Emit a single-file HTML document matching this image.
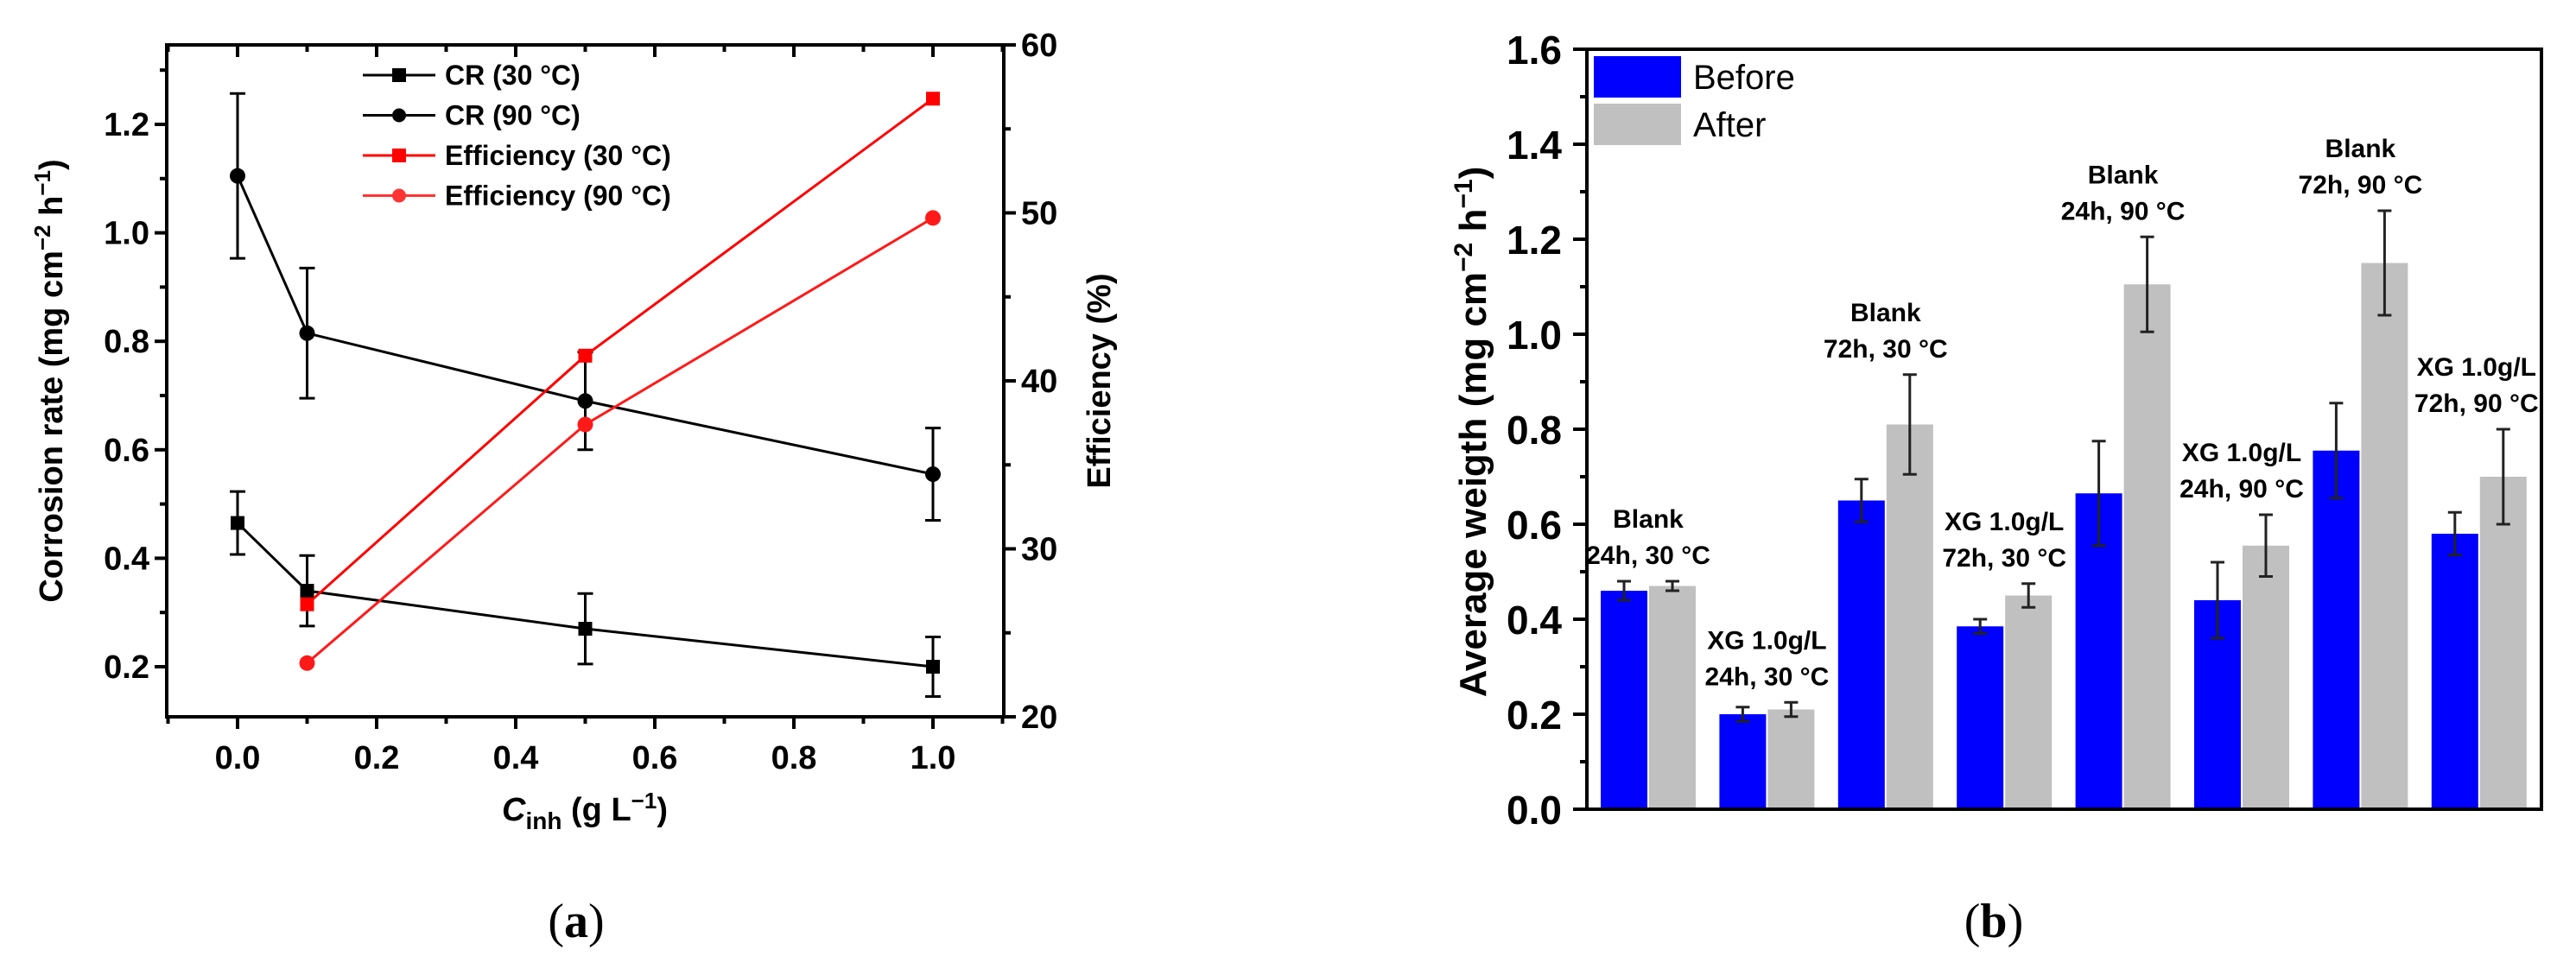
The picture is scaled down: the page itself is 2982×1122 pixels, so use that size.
<!DOCTYPE html>
<html><head><meta charset="utf-8"><style>
html,body{margin:0;padding:0;background:#fff;}
svg{display:block;font-family:"Liberation Sans",Arial,sans-serif;}
</style></head><body>
<svg id="svg" width="2982" height="1122" viewBox="0 0 2982 1122" xmlns="http://www.w3.org/2000/svg">
<g id="ga"></g>
<g id="gb"></g>
<text x="667" y="1085" font-family="Liberation Serif,serif" font-size="56" text-anchor="middle">(<tspan font-weight="bold">a</tspan>)</text>
<text x="2308" y="1085" font-family="Liberation Serif,serif" font-size="56" text-anchor="middle">(<tspan font-weight="bold">b</tspan>)</text>
</svg>
<script>
// ---- Chart A data ----
const xConc = [0, 0.1, 0.5, 1.0];
const cr30 = [0.465, 0.34, 0.27, 0.20];
const cr30Err = [0.058, 0.065, 0.065, 0.055];
const cr90 = [1.105, 0.815, 0.69, 0.555];
const cr90Err = [0.152, 0.12, 0.09, 0.085];
const effX = [0.1, 0.5, 1.0];
const eff30 = [26.7, 41.5, 56.8];
const eff90 = [23.2, 37.4, 49.7];
const xTicksA = [0, 0.2, 0.4, 0.6, 0.8, 1.0];
const yTicksA = [0.2, 0.4, 0.6, 0.8, 1.0, 1.2];
const yTicksRA = [20, 30, 40, 50, 60];
// ---- Chart B data ----
const groups = ["Blank 24h 30", "XG 24h 30", "Blank 72h 30", "XG 72h 30", "Blank 24h 90", "XG 24h 90", "Blank 72h 90", "XG 72h 90"];
const before = [0.46, 0.20, 0.65, 0.385, 0.665, 0.44, 0.755, 0.58];
const beforeErr = [0.02, 0.015, 0.045, 0.015, 0.11, 0.08, 0.1, 0.045];
const after = [0.47, 0.21, 0.81, 0.45, 1.105, 0.555, 1.15, 0.70];
const afterErr = [0.01, 0.015, 0.105, 0.025, 0.1, 0.065, 0.11, 0.1];
const labelL1 = ["Blank", "XG 1.0g/L", "Blank", "XG 1.0g/L", "Blank", "XG 1.0g/L", "Blank", "XG 1.0g/L"];
const labelL2 = ["24h, 30 °C", "24h, 30 °C", "72h, 30 °C", "72h, 30 °C", "24h, 90 °C", "24h, 90 °C", "72h, 90 °C", "72h, 90 °C"];
const yTicksB = [0, 0.2, 0.4, 0.6, 0.8, 1.0, 1.2, 1.4, 1.6];

const NS = "http://www.w3.org/2000/svg";
function mk(parent, tag, attrs, text){
  const e = document.createElementNS(NS, tag);
  for (const k in attrs) e.setAttribute(k, attrs[k]);
  if (text !== undefined) e.textContent = text;
  parent.appendChild(e); return e;
}
// ===== Chart A =====
const ga = document.getElementById('ga');
const AL=193, AR=1162, AT=52, AB=830;
const xA = v => 275 + v*805;
const yA = v => 772 - (v-0.2)*628;
const yRA = v => 830 - (v-20)*(778/40);
let e = mk(ga,'rect',{x:AL,y:AT,width:AR-AL,height:AB-AT,fill:'none',stroke:'#000','stroke-width':4});
 
for (let v=-0.1; v<=1.101; v+=0.1){
  const major = Math.abs(Math.round(v*10)%2)===0;
  const x=xA(v), len = major?14:8;
  mk(ga,'line',{x1:x,y1:AB,x2:x,y2:AB+len,stroke:'#000','stroke-width':4});
  mk(ga,'line',{x1:x,y1:AT,x2:x,y2:AT+len,stroke:'#000','stroke-width':4});
}
xTicksA.forEach(v=>{
  e = mk(ga,'text',{x:xA(v),y:890,'font-size':38,'font-weight':'bold','text-anchor':'middle'},v.toFixed(1));
   
});
for (let v=0.1; v<=1.35; v+=0.1){
  const y=yA(v); if (y<AT||y>AB) continue;
  const major = Math.round(v*10)%2===0;
  mk(ga,'line',{x1:AL,y1:y,x2:AL-(major?14:8),y2:y,stroke:'#000','stroke-width':4});
}
yTicksA.forEach(v=>{
  e = mk(ga,'text',{x:AL-20,y:yA(v)+13,'font-size':38,'font-weight':'bold','text-anchor':'end'},v.toFixed(1));
   
});
for (let v=20; v<=60; v+=5){
  const y=yRA(v), major=v%10===0;
  mk(ga,'line',{x1:AR,y1:y,x2:AR+(major?14:8),y2:y,stroke:'#000','stroke-width':4});
}
yTicksRA.forEach(v=>{
  e = mk(ga,'text',{x:AR+20,y:yRA(v)+13,'font-size':38,'font-weight':'bold'},String(v));
   
});
e = mk(ga,'text',{x:0,y:0,'font-size':38,'font-weight':'bold','text-anchor':'middle',transform:'translate(72,441) rotate(-90)'});
e.innerHTML='Corrosion rate (mg cm<tspan dy="-14" font-size="26">−2</tspan><tspan dy="14"> h</tspan><tspan dy="-14" font-size="26">−1</tspan><tspan dy="14">)</tspan>';
 
e = mk(ga,'text',{x:0,y:0,'font-size':38,'font-weight':'bold','text-anchor':'middle',transform:'translate(1285,441) rotate(-90)'},'Efficiency (%)');
 
e = mk(ga,'text',{x:677,y:950,'font-size':38,'font-weight':'bold','text-anchor':'middle'});
e.innerHTML='<tspan font-style="italic">C</tspan><tspan dy="10" font-size="28">inh</tspan><tspan dy="-10"> (g L</tspan><tspan dy="-14" font-size="26">−1</tspan><tspan dy="14">)</tspan>';
 

function series(xs, ys, yf, err, color, marker, name){
  const g = mk(ga,'g',{});
   
  mk(g,'polyline',{points:xs.map((x,i)=>xA(x)+','+yf(ys[i])).join(' '),fill:'none',stroke:color,'stroke-width':3});
  xs.forEach((x,i)=>{
    const cx=xA(x), cy=yf(ys[i]);
    if (err){
      const t=yf(ys[i]+err[i]), b=yf(ys[i]-err[i]);
      mk(g,'line',{x1:cx,y1:t,x2:cx,y2:b,stroke:'#000','stroke-width':3});
      mk(g,'line',{x1:cx-9,y1:t,x2:cx+9,y2:t,stroke:'#000','stroke-width':3});
      mk(g,'line',{x1:cx-9,y1:b,x2:cx+9,y2:b,stroke:'#000','stroke-width':3});
    }
    let m;
    if (marker==='sq') m = mk(g,'rect',{x:cx-8,y:cy-8,width:16,height:16,fill:color});
    else m = mk(g,'circle',{cx:cx,cy:cy,r:9,fill:color});
     
  });
}
series(xConc, cr30, yA, cr30Err, '#000', 'sq', 'series-cr-30');
series(xConc, cr90, yA, cr90Err, '#000', 'ci', 'series-cr-90');
series(effX, eff30, yRA, null, '#ff0000', 'sq', 'series-eff-30');
series(effX, eff90, yRA, null, '#ff1a1a', 'ci', 'series-eff-90');
const legA = [['CR (30 °C)','#000','sq'],['CR (90 °C)','#000','ci'],['Efficiency (30 °C)','#ff0000','sq'],['Efficiency (90 °C)','#ff3333','ci']];
legA.forEach((l,i)=>{
  const y = 87 + i*46.5;
  const g = mk(ga,'g',{});
   
  mk(g,'line',{x1:420,y1:y,x2:504,y2:y,stroke:l[1],'stroke-width':3});
  if (l[2]==='sq') mk(g,'rect',{x:454,y:y-8,width:16,height:16,fill:l[1]});
  else mk(g,'circle',{cx:462,cy:y,r:8,fill:l[1]});
  mk(g,'text',{x:515,y:y+11,'font-size':32,'font-weight':'bold'},l[0]);
});
// ===== Chart B =====
const gb = document.getElementById('gb');
const BL=1837, BR=2942, BT=57, BB=937;
const yB = v => BB - v*550;
const gx = i => 1853 + i*137.4;
const bw = 54;
for (let v=0.1; v<1.6; v+=0.2){
  mk(gb,'line',{x1:BL,y1:yB(v),x2:BL-8,y2:yB(v),stroke:'#000','stroke-width':4});
}
yTicksB.forEach(v=>{
  mk(gb,'line',{x1:BL,y1:yB(v),x2:BL-16,y2:yB(v),stroke:'#000','stroke-width':4});
  e = mk(gb,'text',{x:1808,y:yB(v)+17,'font-size':46,'font-weight':'bold','text-anchor':'end'},v.toFixed(1));
   
});
groups.forEach((gname,i)=>{
  const x0=gx(i);
  [[before,beforeErr,'#0000ff',0,'bar-before'],[after,afterErr,'#c0c0c0',bw+2,'bar-after']].forEach(s=>{
    const v=s[0][i], er=s[1][i], x=x0+s[3];
    const r = mk(gb,'rect',{x:x,y:yB(v),width:bw,height:BB-yB(v),fill:s[2]});
     
    const cx=x+bw/2, t=yB(v+er), b=yB(v-er);
    mk(gb,'line',{x1:cx,y1:t,x2:cx,y2:b,stroke:'#222','stroke-width':3});
    mk(gb,'line',{x1:cx-8,y1:t,x2:cx+8,y2:t,stroke:'#222','stroke-width':3});
    mk(gb,'line',{x1:cx-8,y1:b,x2:cx+8,y2:b,stroke:'#222','stroke-width':3});
  });
  const top = Math.max(after[i]+afterErr[i], before[i]+beforeErr[i]);
  const ly = yB(top) - 62;
  const cx = x0 + bw + 1 + (i===7 ? -3 : 0);
  e = mk(gb,'text',{x:cx,y:ly,'font-size':30,'font-weight':'bold','text-anchor':'middle'},labelL1[i]);
   
  e = mk(gb,'text',{x:cx,y:ly+42,'font-size':30,'font-weight':'bold','text-anchor':'middle'},labelL2[i]);
   
});
e = mk(gb,'rect',{x:BL,y:BT,width:BR-BL,height:BB-BT,fill:'none',stroke:'#000','stroke-width':4});
 
e = mk(gb,'text',{x:0,y:0,'font-size':44,'font-weight':'bold','text-anchor':'middle',transform:'translate(1720,500) rotate(-90)'});
e.innerHTML='Average weigth (mg cm<tspan dy="-16" font-size="30">−2</tspan><tspan dy="16"> h</tspan><tspan dy="-16" font-size="30">−1</tspan><tspan dy="16">)</tspan>';
 
[['Before','#0000ff',65],['After','#c0c0c0',120]].forEach(l=>{
  const g = mk(gb,'g',{});
   
  mk(g,'rect',{x:1845,y:l[2],width:101,height:48,fill:l[1]});
  mk(g,'text',{x:1960,y:l[2]+38,'font-size':40},l[0]);
});
</script>
</body></html>
